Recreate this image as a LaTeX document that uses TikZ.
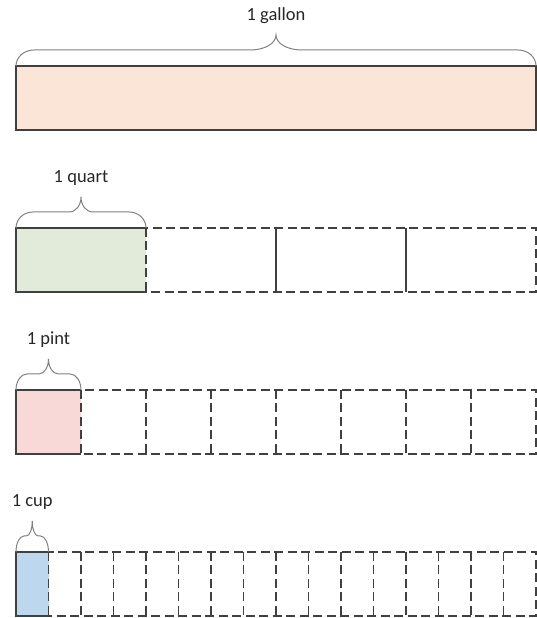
\documentclass[tikz,border=0pt]{standalone}
\usepackage{fontspec}
\setmainfont{Carlito}
\usepackage{xcolor}
\usepackage{tikz}
\usetikzlibrary{positioning, calc}
\definecolor{gallonfill}{HTML}{FBE5D6}
\definecolor{quartfill}{HTML}{E2EBDA}
\definecolor{pintfill}{HTML}{F8D9D7}
\definecolor{cupfill}{HTML}{BDD7EE}
\definecolor{edgegray}{HTML}{404040}
\definecolor{bracegray}{HTML}{808080}
\definecolor{textgray}{HTML}{262626}
\tikzstyle{gallonbox} = [rectangle, minimum width=520pt, minimum height=64pt, inner sep=0pt, outer sep=0pt, 
                         draw=edgegray, fill=gallonfill, line width=1.5pt]
\tikzstyle{unitrow} = [rectangle, minimum width=520pt, minimum height=64pt, inner sep=0pt, outer sep=0pt, 
                       draw=edgegray, line width=1.5pt, dash pattern=on 9pt off 4.5pt]
\tikzstyle{unitcell} = [rectangle, minimum height=64pt, inner sep=0pt, outer sep=0pt, anchor=west]
\tikzstyle{solidedge} = [draw=edgegray, line width=1.5pt]
\tikzstyle{dashedge} = [draw=edgegray, line width=1.5pt, dash pattern=on 9pt off 4.5pt]
\tikzstyle{bracket} = [draw=bracegray, line width=1pt]
\tikzstyle{unitlabel} = [font=\fontsize{18.5}{22}\selectfont, text=textgray, inner sep=0pt, 
                         text height=12pt, text depth=4pt]

% curly brace over the top edge of a node: #1 node, #2 corner size, #3 tip size
\newcommand{\unitbrace}[3]{%
  \draw [bracket] (#1.north west) .. controls +(0,9) and +(-0.55*#2,0) .. ($(#1.north west)+(#2,16)$)
    -- ($(#1.north)+(-#3,16)$) .. controls +(0.6*#3,0) and +(0,-8) .. ($(#1.north)+(0,31)$)
    .. controls +(0,-8) and +(-0.6*#3,0) .. ($(#1.north)+(#3,16)$)
    -- ($(#1.north east)+(-#2,16)$) .. controls +(0.55*#2,0) and +(0,9) .. (#1.north east);
}

\begin{document}
\begin{tikzpicture}[x=1pt, y=1pt, node distance=98pt]
\useasboundingbox (0,0) rectangle (537,618);

\node (gallon) [gallonbox] at (276,520) {};
\node (quart) [unitrow, below=of gallon] {};
\node (pint) [unitrow, below=of quart] {};
\node (cup) [unitrow, below=of pint] {};

\node (quartcell) [unitcell, fill=quartfill, minimum width=130pt] at (quart.west) {};
\node (pintcell) [unitcell, fill=pintfill, minimum width=65pt] at (pint.west) {};
\node (cupcell) [unitcell, fill=cupfill, minimum width=32.5pt] at (cup.west) {};

\foreach \cell in {quartcell, pintcell, cupcell}
  \draw [solidedge] (\cell.north east) -- (\cell.north west) -- (\cell.south west) -- (\cell.south east);

\draw [dashedge] (quartcell.north east) -- (quartcell.south east);
\foreach \k in {2,3}
  \draw [solidedge] ($(quart.north west)+(\k*130,0)$) -- ($(quart.south west)+(\k*130,0)$);
\foreach \k in {1,...,7}
  \draw [dashedge] ($(pint.north west)+(\k*65,0)$) -- ($(pint.south west)+(\k*65,0)$);
\foreach \k in {1,...,15}
  \draw [dashedge] ($(cup.north west)+(\k*32.5,0)$) -- ($(cup.south west)+(\k*32.5,0)$);

\unitbrace{gallon}{18}{26}
\unitbrace{quartcell}{17}{12}
\unitbrace{pintcell}{11}{10}
\unitbrace{cupcell}{8}{6}

\node (gallonlabel) [unitlabel, above=41pt of gallon] {1 gallon};
\node (quartlabel) [unitlabel, above=41pt of quartcell] {1 quart};
\node (pintlabel) [unitlabel, above=41pt of pintcell] {1 pint};
\node (cuplabel) [unitlabel, above=41pt of cupcell] {1 cup};

\end{tikzpicture}
\end{document}
